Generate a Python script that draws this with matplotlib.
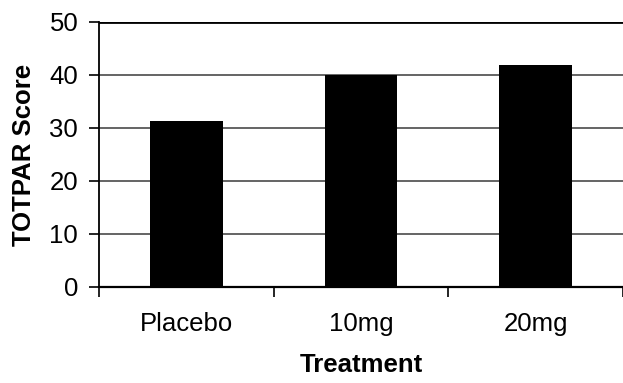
import matplotlib
matplotlib.use("Agg")
import matplotlib.pyplot as plt
import numpy as np

plt.rcParams['font.family'] = ['Liberation Sans', 'DejaVu Sans']

treatments = ["Placebo", "10mg", "20mg"]
scores = [31.3, 40.0, 41.9]
yticks = [0, 10, 20, 30, 40, 50]

fig = plt.figure(figsize=(6.23, 3.83), dpi=100)
ax = fig.add_axes([0.159, 0.2507, 0.841, 0.6919])

x = np.arange(len(treatments))
ax.bar(x, scores, width=0.415, color="black", zorder=3)

ax.set_xlim(-0.5, len(treatments) - 0.5)
ax.set_ylim(0, 50)
for v in yticks[1:]:
    ax.axhline(v, color="black" if v == 50 else "#3a3a3a",
               lw=2 if v == 50 else 1.1, zorder=1)

ax.set_yticks(yticks)
ax.set_xticks(x)
ax.set_xticklabels(treatments)
ax.set_xticks(np.arange(-0.5, len(treatments)), minor=True)
ax.tick_params(axis="x", which="major", length=0, pad=18, labelsize=18.5)
ax.tick_params(axis="x", which="minor", length=7, width=1.2, direction="out")
ax.tick_params(axis="y", length=7, width=1.2, direction="out", labelsize=18.5, pad=8)

for s in ["top", "right"]:
    ax.spines[s].set_visible(False)
ax.spines["left"].set_linewidth(1.3)
ax.spines["bottom"].set_linewidth(1.6)

ax.set_ylabel("TOTPAR Score", fontsize=18.5, fontweight="bold", labelpad=10)
ax.set_xlabel("Treatment", fontsize=18.5, fontweight="bold", labelpad=12)

fig.savefig("out.png", dpi=100)
